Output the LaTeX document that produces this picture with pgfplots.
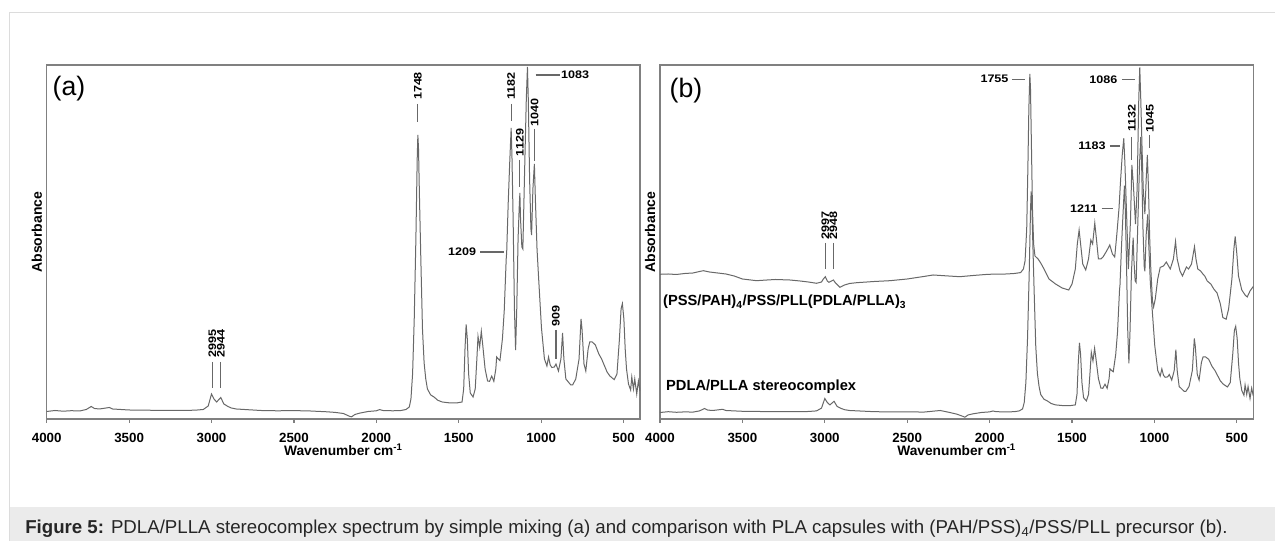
\documentclass[border=0pt]{standalone}
\usepackage{fontspec}
\setmainfont{Liberation Sans}
\usepackage{pgfplots}
\pgfplotsset{compat=1.18}

\definecolor{frame}{HTML}{808080}
\definecolor{spec}{HTML}{686868}
\definecolor{capbg}{HTML}{EBEBEB}
\definecolor{bord}{HTML}{DCDCDC}

\pgfplotsset{
  irstyle/.style={
    scale only axis, width=445pt, height=265.5pt,
    xmin=400, xmax=4000, x dir=reverse, ymin=0, ymax=354,
    axis line style={draw=frame, line width=1pt},
    xtick={500,1000,...,4000},
    xticklabels={500,1000,1500,2000,2500,3000,3500,4000},
    ytick=\empty,
    xtick pos=left, tick align=outside, major tick length=3pt,
    tick style={draw=frame, line width=0.9pt},
    xticklabel style={font=\fontsize{10}{12}\selectfont\bfseries, yshift=-4pt},
    xlabel={Wavenumber cm\textsuperscript{-1}},
    xlabel style={font=\fontsize{10.3}{12}\selectfont\bfseries,
      at={(axis description cs:0.5,0)}, anchor=base, yshift=-27.5pt},
    ylabel={Absorbance},
    ylabel style={font=\fontsize{10.5}{12}\selectfont\bfseries,
      at={(axis description cs:0,0.528)}, anchor=south},
    clip mode=individual,
  },
  spec/.style={color=spec, line width=0.75pt, no marks},
}
\tikzset{
  pk/.style={font=\fontsize{8.2}{10}\selectfont\bfseries, inner sep=0pt},
  pkl/.style={draw=spec, line width=0.8pt},
}
% peak numbers are set wide, as in the original figure
\newcommand\pn[1]{\scalebox{1.15}[1]{#1}}

\begin{document}
\begin{tikzpicture}
\path[use as bounding box] (0,0) rectangle (956.25pt,405.75pt);
\fill[white] (0,0) rectangle (956.25pt,405.75pt);
% caption strip and page border
\fill[capbg] (6.75pt,0) rectangle (956.25pt,25.5pt);
\draw[bord, line width=0.75pt] (6.75pt,0) -- (6.75pt,396pt) -- (956.25pt,396pt);
\node[anchor=base west, inner sep=0pt, font=\fontsize{14}{16}\selectfont, text=black!85]
  at (18.75pt,5.6pt) {\textbf{Figure 5:} PDLA/PLLA stereocomplex spectrum by simple mixing (a) and comparison with PLA capsules with (PAH/PSS)\textsubscript{4}/PSS/PLL precursor (b).};

% ---------------- panel (a)
\begin{axis}[irstyle, at={(35.03pt,91.5pt)}, anchor=south west]
\addplot[spec] coordinates {
(4000,7.5) (3950,8.5) (3900,7.8) (3850,8.3) (3800,8.0) (3760,9.5) (3730,12.5)
(3710,10.5) (3680,10) (3640,11) (3620,11.5) (3600,10) (3550,9.5) (3500,9.0)
(3400,8.8) (3300,8.6) (3200,8.5) (3100,8.8) (3050,9.5) (3020,13) (3000,25)
(2985,20) (2969,17) (2944,21.5) (2925,15) (2900,12.5) (2880,11) (2850,10)
(2800,9.5) (2700,8.5) (2600,8.2) (2500,8.4) (2400,8.0) (2300,7.2) (2250,6.6)
(2200,5.5) (2160,2.5) (2150,2.2) (2130,4.5) (2100,5.9) (2050,7.5) (2000,8.2)
(1980,9.4) (1960,8.5) (1900,8.2) (1850,8.5) (1820,9.5) (1800,12) (1790,20)
(1780,45) (1770,100) (1760,180) (1752,260) (1748,284) (1744,270) (1738,220)
(1730,160) (1720,90) (1710,56) (1700,40) (1690,30) (1670,24) (1650,22)
(1627,18.7) (1600,17) (1550,16) (1514,16) (1480,17) (1470,30) (1462,70)
(1455,94.6) (1448,80) (1440,45) (1430,26) (1413,22) (1400,30) (1390,60)
(1383,82.6) (1373,72) (1363,87.7) (1355,75) (1340,50) (1325,38) (1313,37.7)
(1300,42.9) (1287,37.7) (1275,50) (1270,62) (1260,60) (1250,58.4) (1235,80)
(1224,108) (1212,160) (1209,167) (1200,215) (1191,255) (1182,291) (1177,262)
(1170,200) (1162,110) (1155,69) (1148,110) (1140,180) (1133,212) (1129,226)
(1125,200) (1117,172) (1111,170) (1100,250) (1090,320) (1083,352) (1078,320)
(1070,240) (1062,190) (1058,184) (1050,230) (1041,255) (1035,220) (1025,170)
(1016,143) (998,91) (980,60) (965,53) (955,62) (945,54) (935,51.5) (920,52)
(910,55) (895,48) (880,60) (870,86) (862,60) (850,40) (820,34) (809,34)
(790,40) (770,60) (758,100) (752,90) (740,55) (729,48) (715,70) (705,77)
(690,77) (671,74) (650,65) (633,60) (600,47) (583,43) (557,39.4) (540,45)
(525,80) (515,110) (507,115.3) (498,100) (490,70) (482,50) (470,35) (457,29)
(450,42) (440,30) (432,40) (420,25) (410,38) (400,28)
};
% peak labels
\node[pk, rotate=90] at (axis cs:1748,333) {\pn{1748}};
\draw[pkl] (axis cs:1748,315) -- (axis cs:1748,297);
\node[pk, rotate=90] at (axis cs:1182,333) {\pn{1182}};
\draw[pkl] (axis cs:1182,315) -- (axis cs:1182,298);
\node[pk, rotate=90] at (axis cs:1129,276.5) {\pn{1129}};
\draw[pkl] (axis cs:1129,259) -- (axis cs:1129,232);
\node[pk, rotate=90] at (axis cs:1040,306.5) {\pn{1040}};
\draw[pkl] (axis cs:1040,290) -- (axis cs:1040,258);
\draw[pkl] (axis cs:1034,344) -- (axis cs:885,344);
\node[pk, anchor=west] at (axis cs:880,344) {\pn{1083}};
\draw[pkl] (axis cs:1368,167) -- (axis cs:1228,167);
\node[pk, anchor=east] at (axis cs:1393,167) {\pn{1209}};
\node[pk, rotate=90] at (axis cs:910,102.5) {\pn{909}};
\draw[pkl] (axis cs:910,89) -- (axis cs:910,60);
\node[pk, rotate=90] at (axis cs:2995,75.5) {\pn{2995}};
\draw[pkl] (axis cs:2995,57) -- (axis cs:2995,31);
\node[pk, rotate=90] at (axis cs:2944,75.5) {\pn{2944}};
\draw[pkl] (axis cs:2944,57) -- (axis cs:2944,31);
\end{axis}
\node[font=\fontsize{20}{24}\selectfont] at (51.75pt,339pt) {(a)};

% ---------------- panel (b)
\begin{axis}[irstyle, at={(495pt,91.5pt)}, anchor=south west]
% PDLA/PLLA stereocomplex
\addplot[spec] coordinates {
(4000,6.5) (3950,7.3) (3900,6.7) (3850,7.1) (3800,6.9) (3760,8.1) (3730,10.5)
(3710,8.9) (3680,8.5) (3640,9.3) (3620,9.7) (3600,8.5) (3550,8.1) (3500,7.7)
(3400,7.5) (3300,7.4) (3200,7.3) (3100,7.5) (3050,8.1) (3020,10.9) (3000,20.5)
(2985,16.5) (2969,14.1) (2944,17.7) (2925,12.5) (2900,10.5) (2880,9.3) (2850,8.5)
(2800,8.1) (2700,7.3) (2600,7.1) (2500,7.2) (2400,6.9) (2300,8.5) (2250,6.8)
(2200,4.9) (2160,2.5) (2150,1.8) (2130,4.1) (2100,5.2) (2050,6.5) (2000,7.1)
(1980,8.0) (1960,7.3) (1900,7.1) (1850,7.3) (1820,8.1) (1800,10.1) (1790,16.5)
(1780,36.5) (1770,80.5) (1760,144.5) (1752,208.5) (1748,227.7) (1744,216.5)
(1738,176.5) (1730,128.5) (1720,72.5) (1710,45.3) (1700,32.5) (1690,24.5)
(1670,19.7) (1650,18.1) (1627,15.5) (1600,14.1) (1550,13.3) (1514,13.3)
(1480,14.1) (1470,24.5) (1462,56.5) (1455,76.2) (1448,64.5) (1440,36.5)
(1430,21.3) (1413,18.1) (1400,24.5) (1390,48.5) (1383,66.6) (1373,58.1)
(1363,70.7) (1355,60.5) (1340,40.5) (1325,30.9) (1313,30.7) (1300,34.8)
(1287,30.7) (1275,40.5) (1270,50.1) (1260,48.5) (1250,47.2) (1235,64.5)
(1224,86.9) (1212,128.5) (1209,134.1) (1200,172) (1191,204) (1182,233.3)
(1177,210) (1170,160.5) (1162,88.5) (1155,55.7) (1148,88.5) (1140,144)
(1133,170) (1129,181.3) (1125,160.5) (1117,138.1) (1111,136.5) (1100,200.5)
(1090,256.5) (1083,282.1) (1078,256.5) (1070,192.5) (1062,152.5) (1058,147.7)
(1050,184.5) (1041,204.5) (1035,176.5) (1025,136.5) (1016,114.9) (998,73.3)
(980,48.5) (965,42.9) (955,50.1) (945,43.7) (935,41.7) (920,42.1) (910,44.5)
(895,38.9) (880,48.5) (870,69.3) (862,48.5) (850,32.5) (820,27.7) (809,27.7)
(790,32.5) (770,48.5) (758,80.5) (752,72.5) (740,44.5) (729,38.9) (715,56.5)
(705,62.1) (690,62.1) (671,59.7) (650,52.5) (633,48.5) (600,38.1) (583,34.9)
(557,32.0) (540,36.5) (525,64.5) (515,88.5) (507,92.7) (498,80.5) (490,56.5)
(482,40.5) (470,28.5) (457,23.7) (450,34.1) (440,24.5) (432,32.5) (420,20.5)
(410,30.9) (400,22.9)
};
% (PSS/PAH)4/PSS/PLL(PDLA/PLLA)3
\addplot[spec] coordinates {
(4000,144.7) (3950,145) (3900,144.5) (3850,145.5) (3800,146) (3760,147.5)
(3737,148.3) (3700,147) (3650,146) (3600,145) (3550,143) (3500,140) (3414,138.3)
(3350,139) (3300,139.5) (3212,139) (3150,138) (3100,137) (3050,135.7) (3020,137)
(3010,139.7) (2997,142.3) (2985,138) (2975,136.7) (2960,138) (2948,139) (2935,136)
(2908,131.7) (2880,134) (2850,135.5) (2807,136.3) (2700,137.5) (2605,138.3)
(2500,140) (2400,142.5) (2343,144) (2250,143) (2181,142.3) (2100,143.5)
(2009,144.7) (1900,145) (1850,145.5) (1812,146.4) (1795,150) (1785,158)
(1775,190) (1768,250) (1762,310) (1756,345) (1752,330) (1746,270) (1740,210)
(1733,175) (1725,163) (1706,160) (1690,156) (1670,150) (1640,140) (1600,135)
(1560,131) (1520,129) (1500,135) (1480,150) (1468,175) (1457,189) (1448,175)
(1435,155) (1417,149) (1400,160) (1386,179) (1375,175) (1362,196) (1352,180)
(1340,160) (1325,160) (1312,162) (1290,168) (1271,174) (1255,165) (1241,162)
(1228,185) (1215,210.7) (1205,240) (1195,265) (1186,280.7) (1179,255) (1168,200)
(1158,150) (1145,200) (1137,254) (1128,235) (1115,195) (1105,230) (1095,320)
(1089,351.7) (1083,320) (1075,270) (1068,230) (1058,205) (1050,240) (1043,264)
(1036,230) (1029,182) (1022,150) (1012,118) (1005,112) (995,120) (980,140)
(965,151.6) (945,153) (928,157) (904,150) (885,160) (872,177.5) (862,160)
(845,148) (830,143) (806,152) (793,150) (775,155) (757,172.3) (748,160)
(737,150) (720,148) (706,145) (695,143) (680,138) (658,135) (640,130) (620,126)
(600,115) (585,101.5) (565,99.8) (550,110) (530,140) (518,170) (510,182.6)
(500,165) (490,143) (470,129) (450,124) (437,122) (420,128) (400,132.6)
};
\draw[pkl] (axis cs:1865,339.7) -- (axis cs:1786,339.7);
\node[pk, anchor=east] at (axis cs:1884,339.7) {\pn{1755}};
\draw[pkl] (axis cs:1198,339.7) -- (axis cs:1120,339.7);
\node[pk, anchor=east] at (axis cs:1223,339.7) {\pn{1086}};
\node[pk, rotate=90] at (axis cs:1137,300.7) {\pn{1132}};
\draw[pkl] (axis cs:1137,282) -- (axis cs:1137,259);
\node[pk, rotate=90] at (axis cs:1028,300.7) {\pn{1045}};
\draw[pkl] (axis cs:1028,284) -- (axis cs:1028,271);
\draw[pkl] (axis cs:1271,273) -- (axis cs:1210,273);
\node[pk, anchor=east] at (axis cs:1295,273) {\pn{1183}};
\draw[pkl] (axis cs:1320,210.7) -- (axis cs:1253,210.7);
\node[pk, anchor=east] at (axis cs:1344,210.7) {\pn{1211}};
\node[pk, rotate=90] at (axis cs:2997,193.7) {\pn{2997}};
\draw[pkl] (axis cs:2997,176) -- (axis cs:2997,150);
\node[pk, rotate=90] at (axis cs:2948,193.7) {\pn{2948}};
\draw[pkl] (axis cs:2948,176) -- (axis cs:2948,150);
\node[anchor=base west, inner sep=0pt, font=\fontsize{11}{13}\selectfont\bfseries]
  at (axis cs:3982,113) {(PSS/PAH)\textsubscript{4}/PSS/PLL(PDLA/PLLA)\textsubscript{3}};
\node[anchor=base west, inner sep=0pt, font=\fontsize{11}{13}\selectfont\bfseries]
  at (axis cs:3964,28) {PDLA/PLLA stereocomplex};
\end{axis}
\node[font=\fontsize{20}{24}\selectfont] at (514.5pt,337.5pt) {(b)};
\end{tikzpicture}
\end{document}
